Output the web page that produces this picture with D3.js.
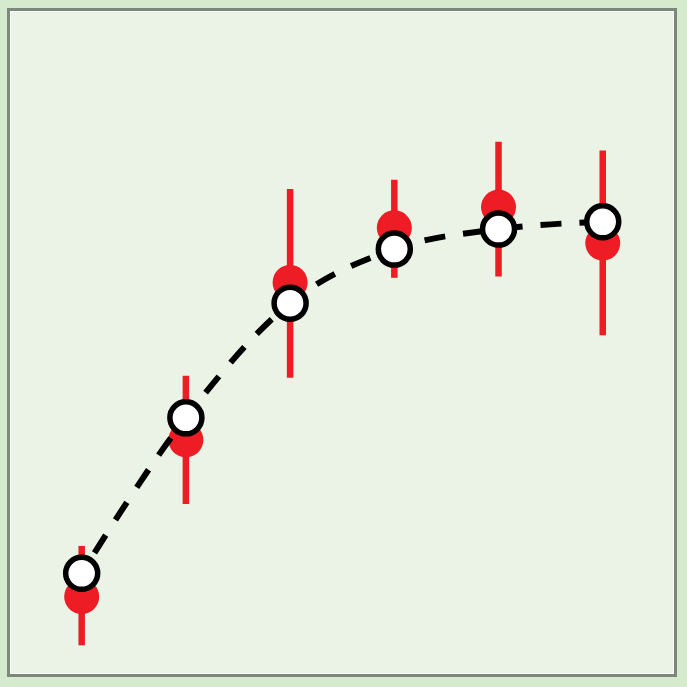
<!DOCTYPE html>
<html>
<head>
<meta charset="utf-8">
<script src="https://cdn.jsdelivr.net/npm/d3@7"></script>
<style>
html,body{margin:0;padding:0;background:#d6ebcd;}
svg{display:block;}
</style>
</head>
<body>
<svg id="chart" width="687" height="687"></svg>
<script>
const xs = [1, 2, 3, 4, 5, 6];
const fitValues = [15.4, 38.7, 55.9, 64.0, 67.0, 68.1];
const obsValues = [11.9, 35.4, 59.0, 67.2, 70.3, 64.9];
const errLow = [4.6, 25.8, 44.7, 59.7, 59.9, 51.1];
const errHigh = [19.5, 45.0, 73.0, 74.4, 80.1, 78.8];

const svg = d3.select("#chart");
const W = 687, H = 687;

svg.append("rect").attr("x",0).attr("y",0).attr("width",W).attr("height",H).attr("fill","#d6ebcd");
svg.append("rect").attr("x",8.5).attr("y",9.5).attr("width",667).attr("height",666)
  .attr("fill","#eaf3e6").attr("stroke","#7c887c").attr("stroke-width",3);
svg.append("rect").attr("x",10.5).attr("y",11.5).attr("width",663).attr("height",662)
  .attr("fill","none").attr("stroke","#ffffff").attr("stroke-width",1).attr("opacity",0.8);

const x = d3.scaleLinear().domain([0.293, 6.703]).range([8, 676]);
const y = d3.scaleLinear().domain([0, 100]).range([676, 9]);

const g = svg.append("g");

g.selectAll("line.err").data(xs).join("line")
  .attr("class","err")
  .attr("x1", d => x(d)).attr("x2", d => x(d))
  .attr("y1", (d,i) => y(errLow[i])).attr("y2", (d,i) => y(errHigh[i]))
  .attr("stroke","#ee1c25").attr("stroke-width",6.5);

g.selectAll("circle.obs").data(xs).join("circle")
  .attr("class","obs")
  .attr("cx", d => x(d)).attr("cy", (d,i) => y(obsValues[i]))
  .attr("r",17.5).attr("fill","#ee1c25");

const line = d3.line().x(d => x(d)).y((d,i) => y(fitValues[i])).curve(d3.curveMonotoneX);
g.append("path").datum(xs).attr("d", line)
  .attr("fill","none").attr("stroke","#000").attr("stroke-width",6)
  .attr("stroke-dasharray","21,18").attr("stroke-dashoffset",15);

g.selectAll("circle.fit").data(xs).join("circle")
  .attr("class","fit")
  .attr("cx", d => x(d)).attr("cy", (d,i) => y(fitValues[i]))
  .attr("r",16).attr("fill","#fff").attr("stroke","#000").attr("stroke-width",5.5);
</script>
</body>
</html>
